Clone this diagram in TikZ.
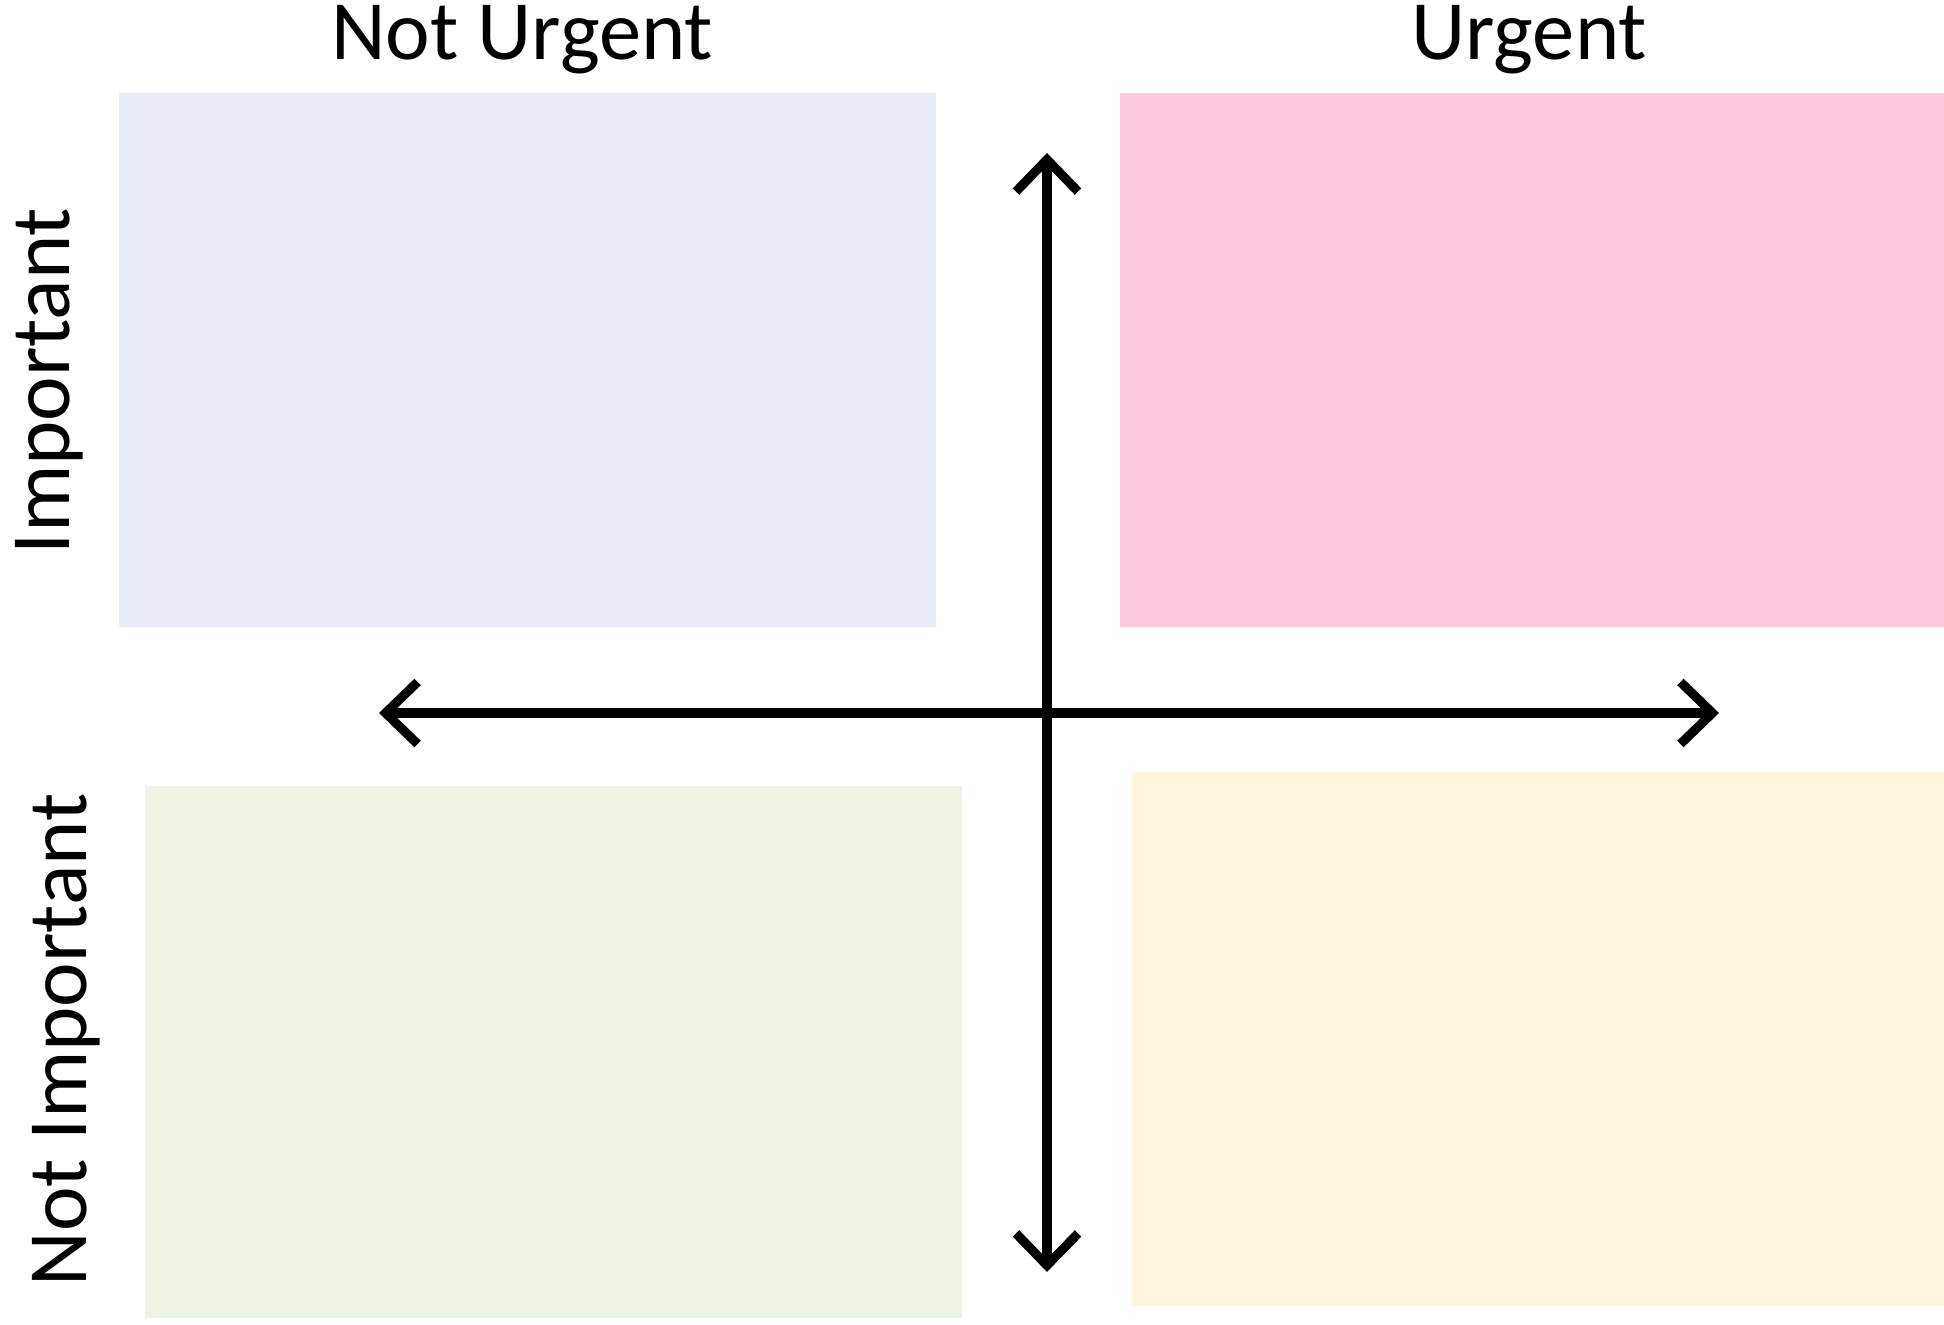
\documentclass[tikz,border=0pt]{standalone}
\usepackage{fontspec}
\setmainfont{Carlito}
\usetikzlibrary{arrows.meta}
\definecolor{qblue}{HTML}{E9ECF6}
\definecolor{qpink}{HTML}{FFCADD}
\definecolor{qgreen}{HTML}{EDF3E5}
\definecolor{qyellow}{HTML}{FEF5DF}
\tikzset{
	axis/.style = {line width = 2.6pt, {Straight Barb[length=0.32cm, width=0.62cm, line width=2.6pt]}-{Straight Barb[length=0.32cm, width=0.62cm, line width=2.6pt]}},
	head/.style = {font = \fontsize{24}{29}\selectfont, anchor = base, inner sep = 0pt}
}
\begin{document}
\begin{tikzpicture}[x = 0.01cm, y = -0.01cm]
		\useasboundingbox (0,0) rectangle (1944,1325);
		% quadrants
		\fill[qblue] (119,93) rectangle (936,627);
		\fill[qpink] (1120,93) rectangle (1944,627);
		\fill[qgreen] (145,786) rectangle (962,1318);
		\fill[qyellow] (1132,772) rectangle (1944,1306);
		% axes
		\coordinate (top) at (1047,153);
		\coordinate (bottom) at (1047,1272);
		\coordinate (left) at (379,713);
		\coordinate (right) at (1719,713);
		\draw[axis] (bottom) -- (top);
		\draw[axis] (left) -- (right);
		% labels
		\node[head] (noturgent) at (522,60) {Not Urgent};
		\node[head] (urgent) at (1529,60) {Urgent};
		\node[head, rotate = 90] (important) at (70,381) {Important};
		\node[head, rotate = 90] (notimportant) at (87,1040) {Not Important};
	\end{tikzpicture}
\end{document}
